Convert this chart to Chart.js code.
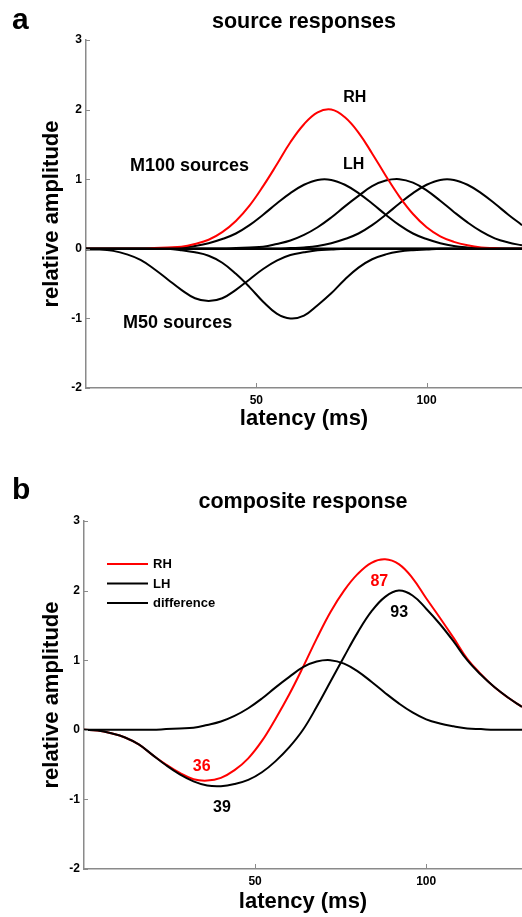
<!DOCTYPE html>
<html>
<head>
<meta charset="utf-8">
<script src="https://cdn.jsdelivr.net/npm/chart.js@4.4.1/dist/chart.umd.min.js"></script>
<style>
html,body{margin:0;padding:0;background:#fff;width:522px;height:917px;overflow:hidden;}
#wa{position:absolute;left:0;top:0;width:522px;height:440px;}
#wb{position:absolute;left:0;top:460px;width:522px;height:457px;}
canvas{display:block;}
</style>
</head>
<body>
<div id="wa"><canvas id="ca" width="522" height="440" style="width:522px;height:440px"></canvas></div>
<div id="wb"><canvas id="cb" width="522" height="457" style="width:522px;height:457px"></canvas></div>
<script>
// ---------- data (latency in ms, amplitudes relative) ----------
const latency = [0,4,8,12,16,20,24,28,32,36,40,44,48,52,56,60,64,68,72,76,80,84,88,92,96,100,104,108,112,116,120,124,128];

// panel a: source responses
const rhM100Source = [0,0,0,0,0,0.01,0.02,0.03,0.07,0.13,0.24,0.40,0.62,0.90,1.21,1.53,1.79,1.96,2.00,1.89,1.67,1.37,1.05,0.75,0.50,0.31,0.18,0.10,0.05,0.02,0.01,0,0];
const lhM100SourceA = [0,0,0,0,0,0,0.01,0.02,0.04,0.08,0.14,0.22,0.34,0.49,0.65,0.80,0.92,0.99,0.99,0.92,0.80,0.65,0.49,0.34,0.22,0.14,0.08,0.04,0.02,0.01,0,0,0];
const lhM100SourceB = [0,0,0,0,0,0,0,0,0,0,0,0.01,0.02,0.03,0.07,0.12,0.20,0.31,0.45,0.61,0.76,0.90,0.98,1.00,0.95,0.84,0.69,0.53,0.38,0.25,0.15,0.09,0.05];
const lhM100SourceC = [0,0,0,0,0,0,0,0,0,0,0,0,0,0,0,0.01,0.02,0.04,0.08,0.14,0.22,0.34,0.49,0.65,0.80,0.92,0.99,0.99,0.92,0.80,0.65,0.49,0.34];
const m50SourceA = [-0.01,-0.01,-0.03,-0.08,-0.16,-0.29,-0.44,-0.59,-0.71,-0.75,-0.71,-0.59,-0.44,-0.29,-0.17,-0.09,-0.05,-0.02,-0.01,0,0,0,0,0,0,0,0,0,0,0,0,0,0];
const m50SourceB = [0,0,0,0,0,0,0,-0.02,-0.05,-0.10,-0.20,-0.36,-0.55,-0.76,-0.93,-1.00,-0.96,-0.81,-0.64,-0.44,-0.27,-0.15,-0.08,-0.04,-0.02,-0.01,0,0,0,0,0,0,0];
const baselineLevel = 0;

// panel b: composite response
const rhComposite = [0,-0.01,-0.05,-0.11,-0.21,-0.36,-0.50,-0.62,-0.71,-0.73,-0.69,-0.58,-0.41,-0.16,0.16,0.51,0.90,1.31,1.69,2.00,2.24,2.40,2.45,2.38,2.18,1.89,1.61,1.32,1.02,0.80,0.61,0.46,0.33];
const lhComposite = [0,-0.01,-0.05,-0.11,-0.21,-0.36,-0.51,-0.64,-0.74,-0.80,-0.81,-0.78,-0.72,-0.61,-0.45,-0.25,0.00,0.33,0.69,1.05,1.40,1.70,1.91,2.00,1.93,1.74,1.52,1.27,1.00,0.79,0.61,0.46,0.33];
const differenceWave = [0,0,0,0,0,0,0.01,0.02,0.03,0.07,0.12,0.20,0.31,0.45,0.61,0.76,0.90,0.98,1.00,0.95,0.84,0.69,0.53,0.38,0.25,0.15,0.09,0.05,0.02,0.01,0,0,0];

// axes
const xTickValues = [50, 100];
const xRange = [0, 128];
const yRange = [-2, 3];

// text labels
const labelsA = [
  {text:'RH', x:78.9, y:2.17, color:'#000', size:16},
  {text:'LH', x:78.6, y:1.21, color:'#000', size:16},
  {text:'M100 sources', x:30.4, y:1.19, color:'#000', size:18},
  {text:'M50 sources', x:26.9, y:-1.06, color:'#000', size:18}
];
const labelsB = [
  {text:'36', x:34.4, y:-0.53, color:'#ff0000', size:16},
  {text:'39', x:40.3, y:-1.12, color:'#000', size:16},
  {text:'87', x:86.3, y:2.13, color:'#ff0000', size:16},
  {text:'93', x:92.1, y:1.68, color:'#000', size:16}
];

// ---------- chart setup ----------
const FONT = '"Liberation Sans", Arial, Helvetica, sans-serif';
Chart.defaults.font.family = FONT;
Chart.defaults.color = '#000';

const pts = arr => latency.map((x, i) => ({x, y: arr[i]}));

const decor = {
  id: 'decor',
  afterDatasetsDraw(chart, args, opts) {
    const {ctx, chartArea, scales: {x, y}} = chart;
    ctx.save();
    // inner tick marks
    ctx.strokeStyle = '#8a8a8a';
    ctx.lineWidth = 1;
    y.ticks.forEach(t => {
      const py = Math.round(y.getPixelForValue(t.value)) + 0.5;
      ctx.beginPath(); ctx.moveTo(chartArea.left, py); ctx.lineTo(chartArea.left + 4, py); ctx.stroke();
    });
    x.ticks.forEach(t => {
      const px = Math.round(x.getPixelForValue(t.value)) + 0.5;
      ctx.beginPath(); ctx.moveTo(px, chartArea.bottom); ctx.lineTo(px, chartArea.bottom - 5); ctx.stroke();
    });
    // in-plot labels
    ctx.textAlign = 'center';
    ctx.textBaseline = 'middle';
    (opts.labels || []).forEach(l => {
      ctx.fillStyle = l.color;
      ctx.font = 'bold ' + l.size + 'px ' + FONT;
      ctx.fillText(l.text, x.getPixelForValue(l.x), y.getPixelForValue(l.y));
    });
    // legend
    if (opts.legend) {
      const lx = chartArea.left + 23, ly = chartArea.top + 43;
      ctx.font = 'bold 13px ' + FONT;
      ctx.textAlign = 'left';
      opts.legend.forEach((idx, k) => {
        const ds = chart.data.datasets[idx];
        const yy = ly + k * 19.5;
        ctx.strokeStyle = ds.borderColor;
        ctx.lineWidth = 2;
        ctx.beginPath(); ctx.moveTo(lx, yy); ctx.lineTo(lx + 41, yy); ctx.stroke();
        ctx.fillStyle = '#000';
        ctx.fillText(ds.label, lx + 46, yy + 0.5);
      });
    }
    // panel letter
    ctx.fillStyle = '#000';
    ctx.font = 'bold 30px ' + FONT;
    ctx.textAlign = 'left';
    ctx.textBaseline = 'alphabetic';
    ctx.fillText(opts.letter, 12, opts.letterBaseline);
    ctx.restore();
  }
};

function makeOptions(cfg) {
  return {
    responsive: false,
    animation: false,
    events: [],
    layout: {padding: 0},
    plugins: {
      legend: {display: false},
      tooltip: {enabled: false},
      title: {
        display: true, text: cfg.title, fullSize: false, color: '#000',
        font: {size: 21.5, weight: 'bold'},
        padding: {top: cfg.titleTop, bottom: cfg.titleBottom}
      },
      decor: {labels: cfg.labels, legend: cfg.legend, letter: cfg.letter, letterBaseline: cfg.letterBaseline}
    },
    elements: {point: {radius: 0}, line: {borderWidth: 2, tension: 0.4}},
    scales: {
      x: {
        type: 'linear', min: xRange[0], max: xRange[1],
        afterBuildTicks: s => { s.ticks = xTickValues.map(v => ({value: v})); },
        afterFit: s => { s.height = cfg.xHeight; },
        ticks: {color: '#000', font: {size: 12, weight: 'bold'}, padding: 5, maxRotation: 0},
        grid: {display: false, drawTicks: false},
        border: {display: true, color: '#8a8a8a', width: 1.5},
        title: {display: true, text: 'latency (ms)', color: '#000', font: {size: 22, weight: 'bold'}, padding: {top: 0, bottom: cfg.xTitleBottom}}
      },
      y: {
        min: yRange[0], max: yRange[1],
        afterFit: s => { s.width = cfg.yWidth; },
        ticks: {stepSize: 1, color: '#000', font: {size: 12, weight: 'bold'}, padding: 4},
        grid: {display: false, drawTicks: false},
        border: {display: true, color: '#8a8a8a', width: 1.5},
        title: {display: true, text: 'relative amplitude', color: '#000', font: {size: 22, weight: 'bold'}, padding: {top: cfg.yTitleTop, bottom: 0}}
      }
    }
  };
}

const lineDs = (label, arr, color, order, width) => ({
  label, data: pts(arr), borderColor: color, backgroundColor: color,
  borderWidth: width || 2, order, fill: false
});

new Chart(document.getElementById('ca'), {
  type: 'line',
  data: {
    datasets: [
      {label: 'zero', data: [{x: xRange[0], y: baselineLevel}, {x: xRange[1], y: baselineLevel}], borderColor: '#000', borderWidth: 2.5, order: 0, fill: false, tension: 0},
      lineDs('RH', rhM100Source, '#ff0000', 1),
      lineDs('LH M100 a', lhM100SourceA, '#000', 2),
      lineDs('LH M100 b', lhM100SourceB, '#000', 2),
      lineDs('LH M100 c', lhM100SourceC, '#000', 2),
      lineDs('M50 a', m50SourceA, '#000', 2),
      lineDs('M50 b', m50SourceB, '#000', 2)
    ]
  },
  options: makeOptions({
    title: 'source responses', titleTop: 9, titleBottom: 5.2,
    xHeight: 52, xTitleBottom: 7.5, yWidth: 86, yTitleTop: 38.8,
    labels: labelsA, letter: 'a', letterBaseline: 29
  }),
  plugins: [decor]
});

new Chart(document.getElementById('cb'), {
  type: 'line',
  data: {
    datasets: [
      lineDs('RH', rhComposite, '#ff0000', 2),
      lineDs('LH', lhComposite, '#000', 0),
      lineDs('difference', differenceWave, '#000', 1)
    ]
  },
  options: makeOptions({
    title: 'composite response', titleTop: 29.1, titleBottom: 6.1,
    xHeight: 48, xTitleBottom: 1.8, yWidth: 84, yTitleTop: 38.8,
    labels: labelsB, legend: [0, 1, 2], letter: 'b', letterBaseline: 39
  }),
  plugins: [decor]
});
</script>
</body>
</html>
